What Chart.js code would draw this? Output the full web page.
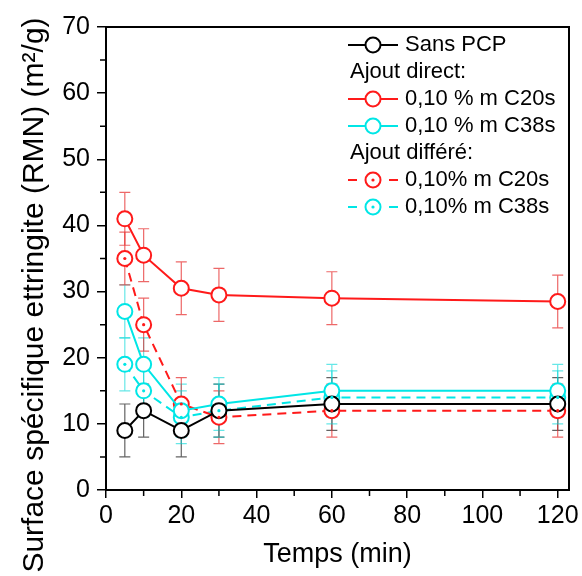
<!DOCTYPE html>
<html>
<head>
<meta charset="utf-8">
<script src="https://cdn.jsdelivr.net/npm/chart.js@4.4.0/dist/chart.umd.min.js"></script>
<style>
  html, body { margin: 0; padding: 0; background: #fff; }
  canvas { display: block; }
</style>
</head>
<body>
<canvas id="chart" width="582" height="576"></canvas>
<script>
// values (time in min, specific surface in m2/g)
var times = [5, 10, 20, 30, 60, 120];
var sansPCP = [9, 12, 9, 12, 13, 13];
var directC20 = [41, 35.5, 30.5, 29.5, 29, 28.5];
var directC38 = [27, 19, 12, 13, 15, 15];
var differeC20 = [35, 25, 13, 11, 12, 12];
var differeC38 = [19, 15, 11, 12, 14, 14];
var errSans = [4, 4, 4, 4, 4, 4];
var errDirectC20 = [4, 4, 4, 4, 4, 4];
var errDirectC38 = [4, 4, 4, 4, 4, 4];
var errDiffereC20 = [4, 4, 4, 4, 4, 4];
var errDiffereC38 = [4, 4, 4, 4, 4, 4];
var xTicks = [0, 20, 40, 60, 80, 100, 120];
var xMinor = [10, 30, 50, 70, 90, 110];
var yTicks = [0, 10, 20, 30, 40, 50, 60, 70];
var yMinor = [5, 15, 25, 35, 45, 55, 65];
var yTitle = 'Surface spécifique ettringite (RMN) (m²/g)';
var legendLabels = ['Sans PCP', 'Ajout direct:', '0,10 % m C20s', '0,10 % m C38s',
                    'Ajout différé:', '0,10% m C20s', '0,10% m C38s'];

var RED = '#ff1a1a';
var CYAN = '#00e6e6';
var FONT = '"Liberation Sans", Arial, sans-serif';

function pts(vals) {
    return times.map(function (t, i) { return { x: t, y: vals[i] }; });
}

function makeSet(label, vals, err, color, dashed, errColor) {
    return {
        label: label,
        data: pts(vals),
        err: err,
        errColor: errColor,
        dot: dashed,
        borderColor: color,
        backgroundColor: '#fff',
        borderWidth: 2,
        borderDash: dashed ? [9, 6] : [],
        pointRadius: 7.5,
        pointBorderWidth: 2,
        pointBackgroundColor: '#fff',
        pointBorderColor: color,
        pointStyle: 'circle',
        tension: 0
    };
}

var errorBars = {
    id: 'errorBars',
    beforeDatasetsDraw: function (chart) {
        var ctx = chart.ctx, xs = chart.scales.x, ys = chart.scales.y;
        ctx.save();
        chart.data.datasets.forEach(function (ds) {
            ctx.strokeStyle = ds.errColor;
            ctx.lineWidth = 1.2;
            ds.data.forEach(function (p, i) {
                var x = xs.getPixelForValue(p.x);
                var y1 = ys.getPixelForValue(p.y + ds.err[i]);
                var y2 = ys.getPixelForValue(p.y - ds.err[i]);
                ctx.beginPath();
                ctx.moveTo(x, y1); ctx.lineTo(x, y2);
                ctx.moveTo(x - 5.5, y1); ctx.lineTo(x + 5.5, y1);
                ctx.moveTo(x - 5.5, y2); ctx.lineTo(x + 5.5, y2);
                ctx.stroke();
            });
        });
        ctx.restore();
    },
    afterDatasetsDraw: function (chart) {
        var ctx = chart.ctx;
        ctx.save();
        chart.data.datasets.forEach(function (ds, di) {
            if (!ds.dot) return;
            ctx.fillStyle = ds.borderColor;
            chart.getDatasetMeta(di).data.forEach(function (el) {
                ctx.beginPath();
                ctx.arc(el.x, el.y, 1.6, 0, Math.PI * 2);
                ctx.fill();
            });
        });
        ctx.restore();
    }
};

function legendSymbol(ctx, x, y, color, dashed) {
    ctx.strokeStyle = color;
    ctx.fillStyle = '#fff';
    ctx.lineWidth = 2;
    ctx.beginPath();
    if (dashed) {
        ctx.moveTo(x, y); ctx.lineTo(x + 9, y);
        ctx.moveTo(x + 41, y); ctx.lineTo(x + 50, y);
    } else {
        ctx.moveTo(x, y); ctx.lineTo(x + 50, y);
    }
    ctx.stroke();
    ctx.beginPath();
    ctx.arc(x + 25, y, 7.5, 0, Math.PI * 2);
    ctx.fill();
    ctx.stroke();
    if (dashed) {
        ctx.fillStyle = color;
        ctx.beginPath();
        ctx.arc(x + 25, y, 1.6, 0, Math.PI * 2);
        ctx.fill();
    }
}

var frameAndLegend = {
    id: 'frameAndLegend',
    afterDraw: function (chart) {
        var ctx = chart.ctx, a = chart.chartArea;
        var xs = chart.scales.x, ys = chart.scales.y;
        ctx.save();
        ctx.strokeStyle = '#000';
        ctx.lineWidth = 2;
        ctx.strokeRect(a.left, a.top, a.right - a.left, a.bottom - a.top);
        // minor ticks
        ctx.lineWidth = 1.5;
        ctx.beginPath();
        yMinor.forEach(function (v) {
            var y = ys.getPixelForValue(v);
            ctx.moveTo(a.left, y); ctx.lineTo(a.left - 6, y);
        });
        xMinor.forEach(function (v) {
            var x = xs.getPixelForValue(v);
            ctx.moveTo(x, a.bottom); ctx.lineTo(x, a.bottom + 6);
        });
        ctx.stroke();

        // y axis title (sits lower than the plot centre in the original)
        ctx.save();
        ctx.fillStyle = '#000';
        ctx.font = '30px ' + FONT;
        ctx.textAlign = 'center';
        ctx.textBaseline = 'alphabetic';
        ctx.translate(43, 295);
        ctx.rotate(-Math.PI / 2);
        ctx.fillText(yTitle, 0, 0);
        ctx.restore();

        // legend
        var colors = ['#000', null, RED, CYAN, null, RED, CYAN];
        var dashed = [false, false, false, false, false, true, true];
        ctx.font = '22px ' + FONT;
        ctx.textAlign = 'left';
        ctx.textBaseline = 'middle';
        legendLabels.forEach(function (txt, i) {
            var y = 45 + i * 27;
            ctx.fillStyle = '#000';
            if (colors[i]) {
                legendSymbol(ctx, 348, y, colors[i], dashed[i]);
                ctx.fillStyle = '#000';
                ctx.fillText(txt, 405, y);
            } else {
                ctx.fillText(txt, 350, y);
            }
        });
        ctx.restore();
    }
};

Chart.defaults.font.family = FONT;
Chart.defaults.color = '#000';

var ctx = document.getElementById('chart').getContext('2d');
var myChart = new Chart(ctx, {
    type: 'line',
    data: {
        datasets: [
            makeSet('Sans PCP', sansPCP, errSans, '#000', false, 'rgba(60,60,60,0.8)'),
            makeSet('0,10 % m C20s', directC20, errDirectC20, RED, false, 'rgba(230,40,40,0.7)'),
            makeSet('0,10 % m C38s', directC38, errDirectC38, CYAN, false, 'rgba(0,215,215,0.6)'),
            makeSet('0,10% m C20s', differeC20, errDiffereC20, RED, true, 'rgba(230,40,40,0.7)'),
            makeSet('0,10% m C38s', differeC38, errDiffereC38, CYAN, true, 'rgba(0,215,215,0.6)')
        ]
    },
    options: {
        responsive: false,
        animation: false,
        layout: { padding: { top: 27, right: 13, left: 0, bottom: 0 } },
        plugins: { legend: { display: false }, tooltip: { enabled: false } },
        scales: {
            x: {
                type: 'linear',
                min: 0,
                max: 123,
                afterBuildTicks: function (scale) {
                    scale.ticks = xTicks.map(function (v) { return { value: v }; });
                },
                afterFit: function (scale) { scale.height = 86; },
                grid: { drawOnChartArea: false, drawTicks: true, tickLength: 8, color: '#000', lineWidth: 1.5 },
                border: { color: '#000', width: 2 },
                ticks: { font: { size: 25 }, padding: 3, maxRotation: 0 },
                title: { display: true, text: 'Temps (min)', font: { size: 27, lineHeight: 1 }, padding: { top: 0, bottom: 8 } }
            },
            y: {
                min: 0,
                max: 70,
                afterBuildTicks: function (scale) {
                    scale.ticks = yTicks.map(function (v) { return { value: v }; });
                },
                afterFit: function (scale) { scale.width = 106; },
                grid: { drawOnChartArea: false, drawTicks: true, tickLength: 9, color: '#000', lineWidth: 1.5 },
                border: { color: '#000', width: 2 },
                ticks: { font: { size: 25 }, padding: 7 }
            }
        }
    },
    plugins: [errorBars, frameAndLegend]
});
</script>
</body>
</html>
